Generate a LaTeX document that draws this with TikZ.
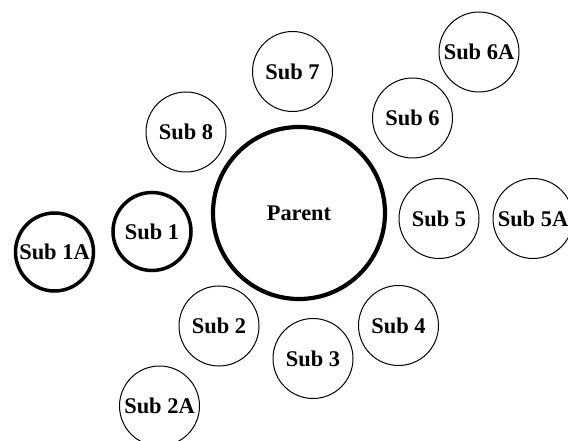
\documentclass[tikz,border=0pt]{standalone}
\usepackage{fontspec}
\setmainfont{Liberation Serif}
\begin{document}
\begin{tikzpicture}[x=1bp,y=-1bp,
  sub/.style={circle,draw,line width=1bp,minimum size=80bp,inner sep=0pt,font=\fontsize{22.5}{26}\selectfont\bfseries},
  thicksub/.style={sub,line width=3.5bp,minimum size=78bp},
  parent/.style={circle,draw,line width=4.2bp,minimum size=172bp,inner sep=0pt,font=\fontsize{22.5}{26}\selectfont\bfseries}]
\useasboundingbox (0,0) rectangle (568,441);
\node[parent] (p) at (299,213) {Parent};
\node[thicksub] (s1) at (152,231.5) {Sub 1};
\node[thicksub] (s1a) at (54.5,252) {Sub 1A};
\node[sub] (s2) at (219,326) {Sub 2};
\node[sub] (s2a) at (159.5,406) {Sub 2A};
\node[sub] (s3) at (313,358.5) {Sub 3};
\node[sub] (s4) at (398.5,325.5) {Sub 4};
\node[sub] (s5) at (439,218.5) {Sub 5};
\node[sub] (s5a) at (533,218.5) {Sub 5A};
\node[sub] (s6) at (412.5,118) {Sub 6};
\node[sub] (s6a) at (479,52) {Sub 6A};
\node[sub] (s7) at (292.5,71.5) {Sub 7};
\node[sub] (s8) at (186,132) {Sub 8};
\end{tikzpicture}
\end{document}
